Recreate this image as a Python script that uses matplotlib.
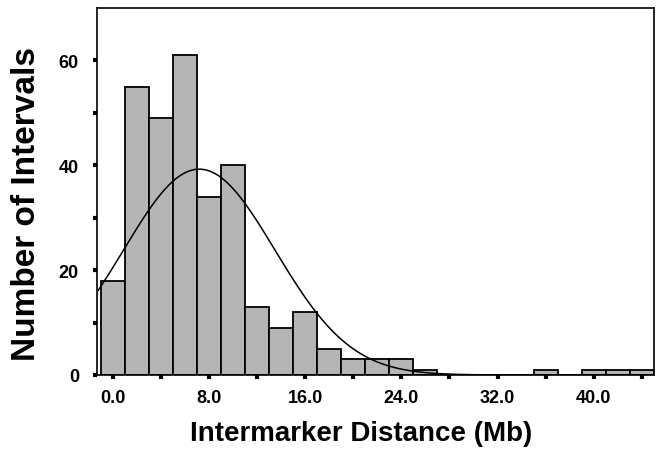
import numpy as np
import matplotlib
matplotlib.use("Agg")
import matplotlib.pyplot as plt

# bin centres (Mb) and counts
bin_centers = [0, 2, 4, 6, 8, 10, 12, 14, 16, 18, 20, 22, 24, 26, 28, 30, 32, 34, 36, 38, 40, 42, 44]
counts = [18, 55, 49, 61, 34, 40, 13, 9, 12, 5, 3, 3, 3, 1, 0, 0, 0, 0, 1, 0, 1, 1, 1]
bin_width = 2.0

# fitted normal curve parameters
curve_mean = 7.2
curve_sd = 6.3

x_ticks = [0, 4, 8, 12, 16, 20, 24, 28, 32, 36, 40, 44]
x_labels = ["0.0", "", "8.0", "", "16.0", "", "24.0", "", "32.0", "", "40.0", ""]
y_ticks = [0, 10, 20, 30, 40, 50, 60]
y_labels = ["0", "", "20", "", "40", "", "60"]

plt.rcParams['font.family'] = ['Liberation Sans', 'DejaVu Sans']

fig = plt.figure(figsize=(6.61, 4.52), dpi=100)
ax = fig.add_axes([97 / 661, 1 - 376 / 452, (654 - 97) / 661, (376 - 9) / 452])

ax.bar(bin_centers, counts, width=bin_width, color='#b5b5b5', edgecolor='black', linewidth=1.3)

n_total = sum(counts)
xs = np.linspace(-1.2, 45, 400)
ys = n_total * bin_width / (curve_sd * np.sqrt(2 * np.pi)) * np.exp(-(xs - curve_mean) ** 2 / (2 * curve_sd ** 2))
ax.plot(xs, ys, color='black', linewidth=1.1)

ax.set_xlim(-1.3, 45)
ax.set_ylim(0, 70)
ax.set_xticks(x_ticks)
ax.set_xticklabels(x_labels, fontsize=13, fontweight='bold')
ax.set_yticks(y_ticks)
ax.set_yticklabels(y_labels, fontsize=13, fontweight='bold')
ax.tick_params(axis='both', direction='out', length=3, width=3)
ax.tick_params(axis='x', pad=7)
ax.tick_params(axis='y', pad=10)

for s in ax.spines.values():
    s.set_linewidth(1.2)

ax.set_xlabel("Intermarker Distance (Mb)", fontsize=20, fontweight='bold')
ax.xaxis.set_label_coords((361 - 97) / 557, -(434 - 376) / 367)
ax.set_ylabel("Number of Intervals", fontsize=24, fontweight='bold')
ax.yaxis.set_label_coords(-(97 - 27) / 557, (376 - 204) / 367)
ax.xaxis.label.set_va('center')
ax.yaxis.label.set_va('center')

fig.savefig("out.png", dpi=100)
